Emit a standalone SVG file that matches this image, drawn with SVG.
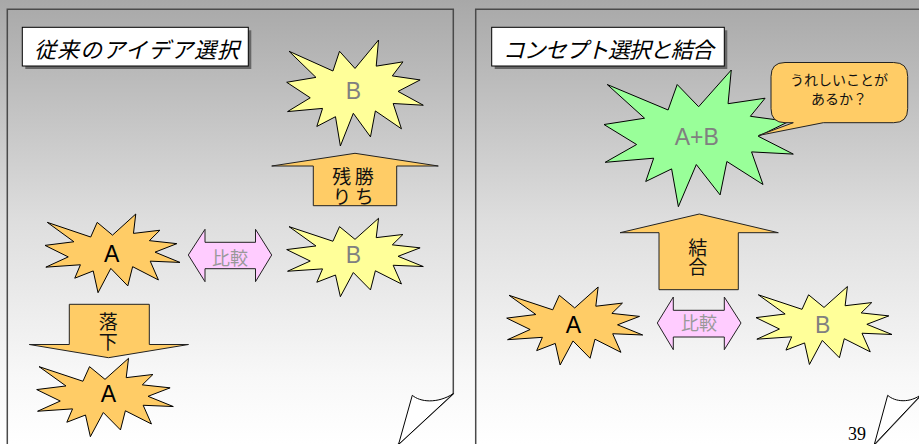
<svg xmlns="http://www.w3.org/2000/svg" xmlns:xlink="http://www.w3.org/1999/xlink" width="919" height="444" viewBox="0 0 919 444">
<style>
.seal{stroke:#000;stroke-width:1;stroke-linejoin:miter}
.org{fill:#FFCC66}
.yel{fill:#FFFF99}
.grn{fill:#99FF99}
.pnk{fill:#FFCCFF;stroke:#222;stroke-width:1}
.blk{fill:#FFCC66;stroke:#222;stroke-width:1}
.lat{font-family:"Liberation Sans",Arial,sans-serif;font-size:23px;text-anchor:middle}
.jp{font-family:"Noto Sans CJK JP","Noto Sans",sans-serif;text-anchor:middle}
.gray{fill:#808080}
.cmp{fill:#999999;font-size:18px}
.vert{writing-mode:vertical-rl;font-size:19px;fill:#111}
.title{font-size:22px;font-style:italic;fill:#000}
.panel{fill:none;stroke:#4a4a4a;stroke-width:1.5}
.flap{fill:#fff;stroke:#000;stroke-width:1}
</style>
<defs>
<linearGradient id="bg" x1="0" y1="0" x2="0" y2="1">
<stop offset="0" stop-color="#a8a8a8"/>
<stop offset="0.5" stop-color="#dedede"/>
<stop offset="0.85" stop-color="#f8f8f8"/>
<stop offset="1" stop-color="#ffffff"/>
</linearGradient>
<path id="seal" vector-effect="non-scaling-stroke" d="M10800,5800L14522,0L14155,5325L18380,4457L16702,7315L21097,8137L17607,10475L21600,13290L16837,12942L18145,18095L14020,14457L13247,19737L10532,14935L8485,21600L7715,15627L4762,17617L5667,13937L135,14587L3722,11775L0,8615L4627,7617L370,2295L7312,6320L8352,2295Z"/>
</defs>
<rect x="0" y="0" width="919" height="444" fill="url(#bg)"/>

<g id="panel-left">
<path class="panel" d="M7.3,450V9.3H453.3V393.7L397.5,445"/>
<path class="flap" d="M412.3,395.3C420,402 437,404 453.3,393.7L398.5,444.5Z"/>
<rect x="25.3" y="30.3" width="226" height="38.7" fill="#666"/>
<rect x="22.3" y="27.3" width="226" height="38.7" fill="#fff" stroke="#000" stroke-width="1"/>
<text class="jp title" x="136.5" y="57.5" textLength="205" lengthAdjust="spacing">従来のアイデア選択</text>
</g>

<g id="panel-right">
<path class="panel" d="M475.7,450V9.3H925"/>
<path class="panel" d="M922,394L874,445"/>
<path class="flap" d="M887.7,395.3C895,402 910,403.5 922,394L874.3,444.5Z"/>
<rect x="494.7" y="30.3" width="232.6" height="38.7" fill="#666"/>
<rect x="491.7" y="27.3" width="232.6" height="38.7" fill="#fff" stroke="#000" stroke-width="1"/>
<text class="jp title" x="608.3" y="57.5" textLength="211" lengthAdjust="spacing">コンセプト選択と結合</text>
<text x="857" y="440" font-family="'Liberation Serif','Times New Roman',serif" font-size="18" text-anchor="middle" fill="#000">39</text>
</g>

<g id="connectors">
<g id="arrow-kachinokori">
<polygon class="blk" points="355,153.3 438.3,166 396.7,166 396.7,205.7 313.3,205.7 313.3,166 271.7,166"/>
<text class="jp vert" x="364.2" y="187.5" letter-spacing="1">勝ち</text>
<text class="jp vert" x="341.7" y="187.5" letter-spacing="1">残り</text>
</g>
<g id="arrow-hikaku-left">
<polygon class="pnk" points="188.3,255 205,229.3 205,242.3 255.5,242.3 255.5,229.3 271.7,255 255.5,281.7 255.5,268.7 205,268.7 205,281.7"/>
<text class="jp cmp" x="230" y="264.5">比較</text>
</g>
<g id="arrow-rakka">
<polygon class="blk" points="69.3,304.3 149.3,304.3 149.3,344.5 188.5,344.5 108.5,357.7 29.3,344.5 69.3,344.5"/>
<text class="jp vert" x="108.3" y="332" letter-spacing="1">落下</text>
</g>
<g id="arrow-ketsugou">
<polygon class="blk" points="699.3,214 778.3,232.7 738.3,232.7 738.3,289.7 659,289.7 659,232.7 620,232.7"/>
<text class="jp vert" x="697.7" y="257" letter-spacing="0">結合</text>
</g>
<g id="arrow-hikaku-right">
<polygon class="pnk" points="657.3,323 673.3,297 673.3,310.3 724.3,310.3 724.3,297 741,323 724.3,349.7 724.3,337 673.3,337 673.3,349.7"/>
<text class="jp cmp" x="699" y="330">比較</text>
</g>
</g>

<g id="node-left-B-top">
<use href="#seal" xlink:href="#seal" class="seal yel" transform="translate(286.7 40) scale(0.0063241 0.0049074)"/>
<text class="lat gray" x="353.5" y="99.2">B</text>
</g>
<g id="node-left-A">
<use href="#seal" xlink:href="#seal" class="seal org" transform="translate(45 214) scale(0.00625 0.0036435)"/>
<text class="lat" x="111.7" y="261.5" fill="#000">A</text>
</g>
<g id="node-left-B">
<use href="#seal" xlink:href="#seal" class="seal yel" transform="translate(286.7 218.3) scale(0.0063241 0.0036296)"/>
<text class="lat gray" x="353.3" y="263.2">B</text>
</g>
<g id="node-left-A-bottom">
<use href="#seal" xlink:href="#seal" class="seal org" transform="translate(36.7 358.3) scale(0.0063241 0.0036296)"/>
<text class="lat" x="108.3" y="401.5" fill="#000">A</text>
</g>

<g id="node-right-AB">
<use href="#seal" xlink:href="#seal" class="seal grn" transform="translate(604 70) scale(0.0087639 0.0063287)"/>
<text class="lat gray" x="696.7" y="144.8" font-size="24">A+B</text>
</g>
<g id="callout">
<path d="M785,62.5H893.7Q907.7,62.5 907.7,76.5V108.7Q907.7,122.7 893.7,122.7H823.3L758.5,135.5L793.3,122.7H785Q771,122.7 771,108.7V76.5Q771,62.5 785,62.5Z" fill="#FFCC66" stroke="#222" stroke-width="1"/>
<text class="jp" x="839" y="85" font-size="14" fill="#111">うれしいことが</text>
<text class="jp" x="839" y="103.5" font-size="14" fill="#111">あるか？</text>
</g>
<g id="node-right-A">
<use href="#seal" xlink:href="#seal" class="seal org" transform="translate(506.7 287) scale(0.0062963 0.0036111)"/>
<text class="lat" x="573.3" y="332.9" fill="#000">A</text>
</g>
<g id="node-right-B">
<use href="#seal" xlink:href="#seal" class="seal yel" transform="translate(756 286.5) scale(0.0062963 0.0036111)"/>
<text class="lat gray" x="822.7" y="332.9">B</text>
</g>
</svg>
